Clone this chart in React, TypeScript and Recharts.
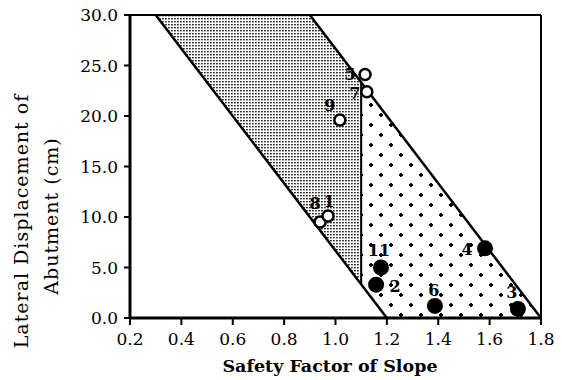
import React from "react"
import {
  ComposedChart,
  Area,
  Line,
  Scatter,
  XAxis,
  YAxis,
  ReferenceLine,
} from "recharts"

// test cases: safety factor of slope vs lateral abutment displacement (cm)
const openNo = ["5", "7", "9", "8", "1"]
const openSF = [1.115, 1.122, 1.017, 0.94, 0.971]
const openDisp = [24.1, 22.4, 19.6, 9.5, 10.1]

const solidNo = ["11", "2", "6", "4", "3"]
const solidSF = [1.177, 1.158, 1.387, 1.582, 1.71]
const solidDisp = [5.0, 3.3, 1.2, 6.9, 0.9]

// boundary lines
const lowerBoundSF = [0.3, 1.2]
const lowerBoundDisp = [30, 0]
const upperBoundSF = [0.9, 1.8]
const upperBoundDisp = [30, 0]
const splitSF = [1.1, 1.1]
const splitDisp = [3.33, 23.33]

// zones (range areas)
const grayZoneSF = [0.3, 0.9, 1.1]
const grayZoneLow = [30, 10, 3.33]
const grayZoneHigh = [30, 30, 23.33]
const dotZoneSF = [1.1, 1.2, 1.8]
const dotZoneLow = [3.33, 0, 0]
const dotZoneHigh = [23.33, 20, 0]

const xTicks = [0.2, 0.4, 0.6, 0.8, 1.0, 1.2, 1.4, 1.6, 1.8]
const yTicks = [0, 5, 10, 15, 20, 25, 30]

const toPts = (xs: number[], ys: number[]) => xs.map((x, i) => ({ sf: x, disp: ys[i] }))
const toZone = (xs: number[], lo: number[], hi: number[]) =>
  xs.map((x, i) => ({ sf: x, range: [lo[i], hi[i]] }))

const openData = openSF.map((x, i) => ({ sf: x, disp: openDisp[i], no: openNo[i] }))
const solidData = solidSF.map((x, i) => ({ sf: x, disp: solidDisp[i], no: solidNo[i] }))

// label offset from marker centre (px)
const labelOff: Record<string, [number, number]> = {
  "5": [-15, 0], "7": [-12, 2], "9": [-10, -15], "8": [-5, -19], "1": [1, -14],
  "11": [-2, -17], "2": [19, 2], "6": [-1, -15], "4": [-18, 1], "3": [-6, -16],
}

const FONT = "'DejaVu Serif', serif"

const Marker = (props: any, filled: boolean) => {
  const { cx, cy, payload } = props
  const off = labelOff[payload.no] || [0, -14]
  return (
    <g>
      {filled ? (
        <circle cx={cx} cy={cy} r={8} fill="#000" />
      ) : (
        <circle cx={cx} cy={cy} r={5.5} fill="#fff" stroke="#000" strokeWidth={2.5} />
      )}
      <text
        x={cx + off[0]}
        y={cy + off[1]}
        textAnchor="middle"
        dominantBaseline="central"
        fontFamily={FONT}
        fontWeight="bold"
        fontSize={16}
        fill="#000"
      >
        {payload.no}
      </text>
    </g>
  )
}

export default function App() {
  const tick = { fill: "#000", fontSize: 17, fontFamily: FONT }
  return (
    <div style={{ position: "absolute", left: 0, top: 0, background: "#fff" }}>
      <ComposedChart width={562} height={380} margin={{ top: 15, right: 21, left: 0, bottom: 0 }}>
        <defs>
          <pattern id="screen" width="3" height="3" patternUnits="userSpaceOnUse">
            <rect width="3" height="3" fill="#fff" />
            <rect width="1.8" height="1.4" fill="#2a2a2a" />
          </pattern>
          <pattern id="dots" width="20" height="20" patternUnits="userSpaceOnUse" x="6" y="0">
            <rect width="20" height="20" fill="#fff" />
            <path d="M3 5h4M5 3v4" stroke="#000" strokeWidth={1.8} />
            <path d="M13 15h4M15 13v4" stroke="#000" strokeWidth={1.8} />
          </pattern>
        </defs>
        <XAxis
          dataKey="sf"
          type="number"
          domain={[0.2, 1.8]}
          ticks={xTicks}
          tickFormatter={(v: number) => v.toFixed(1)}
          allowDataOverflow
          height={62}
          tick={tick}
          tickSize={7}
          tickMargin={8}
          axisLine={{ stroke: "#000", strokeWidth: 3 }}
          tickLine={{ stroke: "#000", strokeWidth: 2 }}
          label={{
            content: () => (
              <text x={330} y={372} textAnchor="middle" fontFamily={FONT} fontWeight="bold" fontSize={17.5} fill="#000">
                Safety Factor of Slope
              </text>
            ),
          }}
        />
        <YAxis
          dataKey="disp"
          type="number"
          domain={[0, 30]}
          ticks={yTicks}
          tickFormatter={(v: number) => v.toFixed(1)}
          allowDataOverflow
          width={130}
          tick={tick}
          tickSize={6}
          tickMargin={6}
          axisLine={{ stroke: "#000", strokeWidth: 3 }}
          tickLine={{ stroke: "#000", strokeWidth: 2 }}
          label={{
            content: () => (
              <g fontFamily={FONT} fontSize={19} fill="#000" letterSpacing={1}>
                <text transform="translate(21,221) rotate(-90)" textAnchor="middle" dominantBaseline="central">
                  Lateral Displacement of
                </text>
                <text transform="translate(51,216) rotate(-90)" textAnchor="middle" dominantBaseline="central">
                  Abutment (cm)
                </text>
              </g>
            ),
          }}
        />
        <Area data={toZone(grayZoneSF, grayZoneLow, grayZoneHigh)} dataKey="range" type="linear" stroke="none" fill="url(#screen)" fillOpacity={1} isAnimationActive={false} />
        <Area data={toZone(dotZoneSF, dotZoneLow, dotZoneHigh)} dataKey="range" type="linear" stroke="none" fill="url(#dots)" fillOpacity={1} isAnimationActive={false} />
        <ReferenceLine y={30} stroke="#000" strokeWidth={2} />
        <ReferenceLine x={1.8} stroke="#000" strokeWidth={2} />
        <Line data={toPts(lowerBoundSF, lowerBoundDisp)} dataKey="disp" type="linear" stroke="#000" strokeWidth={2.5} dot={false} isAnimationActive={false} />
        <Line data={toPts(upperBoundSF, upperBoundDisp)} dataKey="disp" type="linear" stroke="#000" strokeWidth={2.5} dot={false} isAnimationActive={false} />
        <Line data={toPts(splitSF, splitDisp)} dataKey="disp" type="linear" stroke="#000" strokeWidth={2} dot={false} isAnimationActive={false} />
        <Scatter data={openData} dataKey="disp" shape={(p: any) => Marker(p, false)} isAnimationActive={false} />
        <Scatter data={solidData} dataKey="disp" shape={(p: any) => Marker(p, true)} isAnimationActive={false} />
      </ComposedChart>
    </div>
  )
}
